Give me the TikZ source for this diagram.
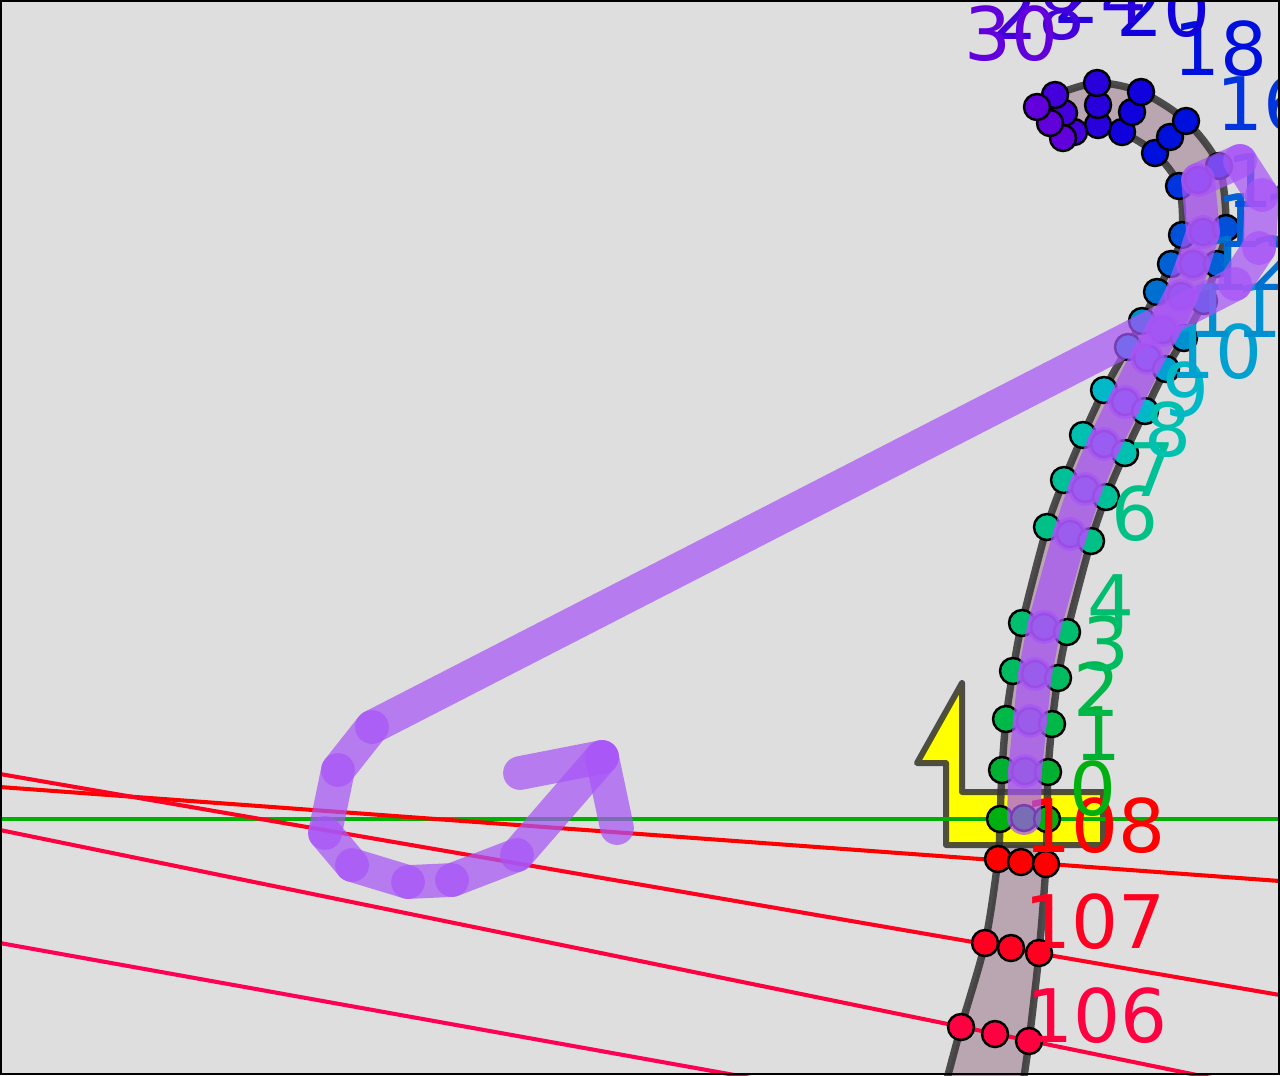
\documentclass[tikz,border=0pt]{standalone}
\usepackage{fontspec}
\setmainfont{DejaVu Sans}
\usepackage{tikz}
\usetikzlibrary{positioning}

\definecolor{bggray}{HTML}{DEDEDE}
\definecolor{tubefill}{HTML}{BAA6B0}
\definecolor{tracecol}{HTML}{A855F7}
\definecolor{marker}{HTML}{FFFF00}
\definecolor{gline}{HTML}{00B000}
\definecolor{c0}{HTML}{00B010}
\definecolor{c1}{HTML}{00B030}
\definecolor{c2}{HTML}{00B848}
\definecolor{c3}{HTML}{00BB60}
\definecolor{c4}{HTML}{00BE70}
\definecolor{c6}{HTML}{00C088}
\definecolor{c7}{HTML}{00C098}
\definecolor{c8}{HTML}{00C0B0}
\definecolor{c9}{HTML}{00B8C8}
\definecolor{c10}{HTML}{00A0D0}
\definecolor{c11}{HTML}{0090D0}
\definecolor{c12}{HTML}{0070D0}
\definecolor{c13}{HTML}{0060D4}
\definecolor{c14}{HTML}{0050D8}
\definecolor{c16}{HTML}{0034DC}
\definecolor{c18}{HTML}{0010DC}
\definecolor{c20}{HTML}{1000DC}
\definecolor{c24}{HTML}{2800DC}
\definecolor{c28}{HTML}{4400DC}
\definecolor{c30}{HTML}{6200DC}
\definecolor{c105}{HTML}{FF0058}
\definecolor{c106}{HTML}{FF0040}
\definecolor{c107}{HTML}{FF0020}
\definecolor{c108}{HTML}{FF0000}

\begin{document}
\begin{tikzpicture}[x=0.01cm, y=-0.01cm,
    dot/.style={draw=black, line width=0.7pt},
    lab/.style={anchor=base, inner sep=0pt, font=\fontsize{21}{25}\selectfont},
    guide/.style={line width=1.15pt},
    tubeline/.style={draw=black!80, draw opacity=0.85, line width=2.1pt, line join=round},
    trace/.style={draw=tracecol, line width=9.6pt, line cap=round, opacity=0.72}]

    \useasboundingbox (0,0) rectangle (1280,1075);
    \fill[bggray] (0,0) rectangle (1280,1075);

    \begin{scope}
        \clip (0,0) rectangle (1280,1075);

        % tube between the left and right rows of dots
        \path[save path=\tubepath]
            plot[smooth] coordinates {(944,1090) (961,1027) (985,943) (998,859) (1000,819)
                (1002,770) (1006,719) (1013,671) (1022,623) (1047,527) (1064,480) (1083,435)
                (1104,390) (1128,347) (1142,321) (1157,292) (1171,264) (1182,235) (1179,186)
                (1155,153) (1122,132) (1098,125) (1074,132) (1063,138)}
            -- plot[smooth] coordinates {(1037,107) (1055,95) (1097,83) (1141,92) (1186,121)
                (1219,166) (1226,228) (1217,264) (1204,301) (1184,338) (1166,369) (1145,411)
                (1125,453) (1106,497) (1091,541) (1067,632) (1058,678) (1052,724) (1048,772)
                (1047,819) (1046,864) (1039,953) (1029,1041) (1022,1090)}
            -- cycle;
        \fill[tubefill, use path=\tubepath];

        % marker
        \filldraw[fill=marker, draw=black!80, draw opacity=0.85, line width=1.7pt, line join=round]
            (917,763) -- (962,683) -- (962,792) -- (1103,792) -- (1103,845) -- (946,845) -- (946,763) -- cycle;

        \draw[tubeline, use path=\tubepath];

        % guide lines
        \draw[guide, gline] (0,819) -- (1280,819);
        \draw[guide, c108] (0,787) -- (1280,881);
        \draw[guide, c107] (0,774) -- (1280,995);
        \draw[guide, c106] (0,830) -- (1280,1092);
        \draw[guide, c105] (0,943) -- (1280,1173);

        % dot rows
        \foreach \n/\ax/\ay/\bx/\by/\cx/\cy in {
            106/961/1027/995/1034/1029/1041, 107/985/943/1011/948/1039/953,
            108/998/859/1021/862/1046/864, 0/1000/819/1024/818/1047/819,
            1/1002/770/1025/771/1048/772, 2/1006/719/1030/721/1052/724,
            3/1013/671/1035/674/1058/678, 4/1022/623/1044/627/1067/632,
            6/1047/527/1070/534/1091/541, 7/1064/480/1085/489/1106/497,
            8/1083/435/1104/444/1125/453, 9/1104/390/1125/402/1145/411,
            10/1128/347/1147/358/1166/369, 11/1142/321/1163/330/1184/338,
            12/1157/292/1181/296/1204/301, 13/1171/264/1193/264/1217/264,
            14/1182/235/1203/232/1226/228, 16/1179/186/1198/180/1219/166,
            18/1155/153/1170/137/1186/121, 20/1122/132/1132/112/1141/92,
            24/1098/125/1098/105/1097/83, 28/1074/132/1064/113/1055/95,
            30/1063/138/1050/123/1037/107}
        {
            \filldraw[dot, fill=c\n] (\ax,\ay) circle[radius=0.13cm];
            \filldraw[dot, fill=c\n] (\bx,\by) circle[radius=0.13cm];
            \filldraw[dot, fill=c\n] (\cx,\cy) circle[radius=0.13cm];
        }

        % row numbers
        \foreach \n/\x/\y in {108/1095/852, 107/1095/948, 106/1097/1042, 0/1093/815,
            1/1098/760, 2/1097/716, 3/1106/670, 4/1111/628, 6/1135/540, 7/1152/496,
            8/1168/456, 9/1186/416, 10/1215/378, 11/1235/337, 12/1250/290, 13/1263/247,
            14/1273/207, 16/1263/130, 18/1220/75, 20/1163/36, 24/1100/23, 28/1038/39,
            30/1011/60}
            \node[lab, text=c\n] (lab\n) at (\x,\y) {\n};

        % stroke
        \coordinate (t0) at (1024,818);
        \coordinate (t1) at (1025,771);
        \coordinate (t2) at (1030,721);
        \coordinate (t3) at (1035,674);
        \coordinate (t4) at (1044,627);
        \coordinate (t5) at (1070,534);
        \coordinate (t6) at (1085,489);
        \coordinate (t7) at (1104,444);
        \coordinate (t8) at (1125,402);
        \coordinate (t9) at (1147,358);
        \coordinate (t10) at (1163,330);
        \coordinate (t11) at (1181,296);
        \coordinate (t12) at (1193,264);
        \coordinate (t13) at (1203,232);
        \coordinate (t14) at (1198,180);
        \coordinate (t15) at (1240,161);
        \coordinate (t16) at (1262,195);
        \coordinate (t17) at (1259,248);
        \coordinate (t18) at (1235,284);
        \coordinate (t19) at (372,727);
        \coordinate (t20) at (338,770);
        \coordinate (t21) at (325,833);
        \coordinate (t22) at (352,865);
        \coordinate (t23) at (408,882);
        \coordinate (t24) at (452,880);
        \coordinate (t25) at (517,855);
        \coordinate (t26) at (602,757);
        \coordinate (t27) at (520,773);
        \coordinate (t28) at (617,828);
        \foreach \a/\b in {t0/t1, t1/t2, t2/t3, t3/t4, t4/t5, t5/t6, t6/t7, t7/t8, t8/t9,
            t9/t10, t10/t11, t11/t12, t12/t13, t13/t14, t14/t15, t15/t16, t16/t17, t17/t18,
            t18/t19, t19/t20, t20/t21, t21/t22, t22/t23, t23/t24, t24/t25, t25/t26,
            t26/t27, t26/t28}
            \draw[trace] (\a) -- (\b);
    \end{scope}

    \draw[black, line width=0.6pt] (1,1) rectangle (1279,1074);
\end{tikzpicture}
\end{document}
